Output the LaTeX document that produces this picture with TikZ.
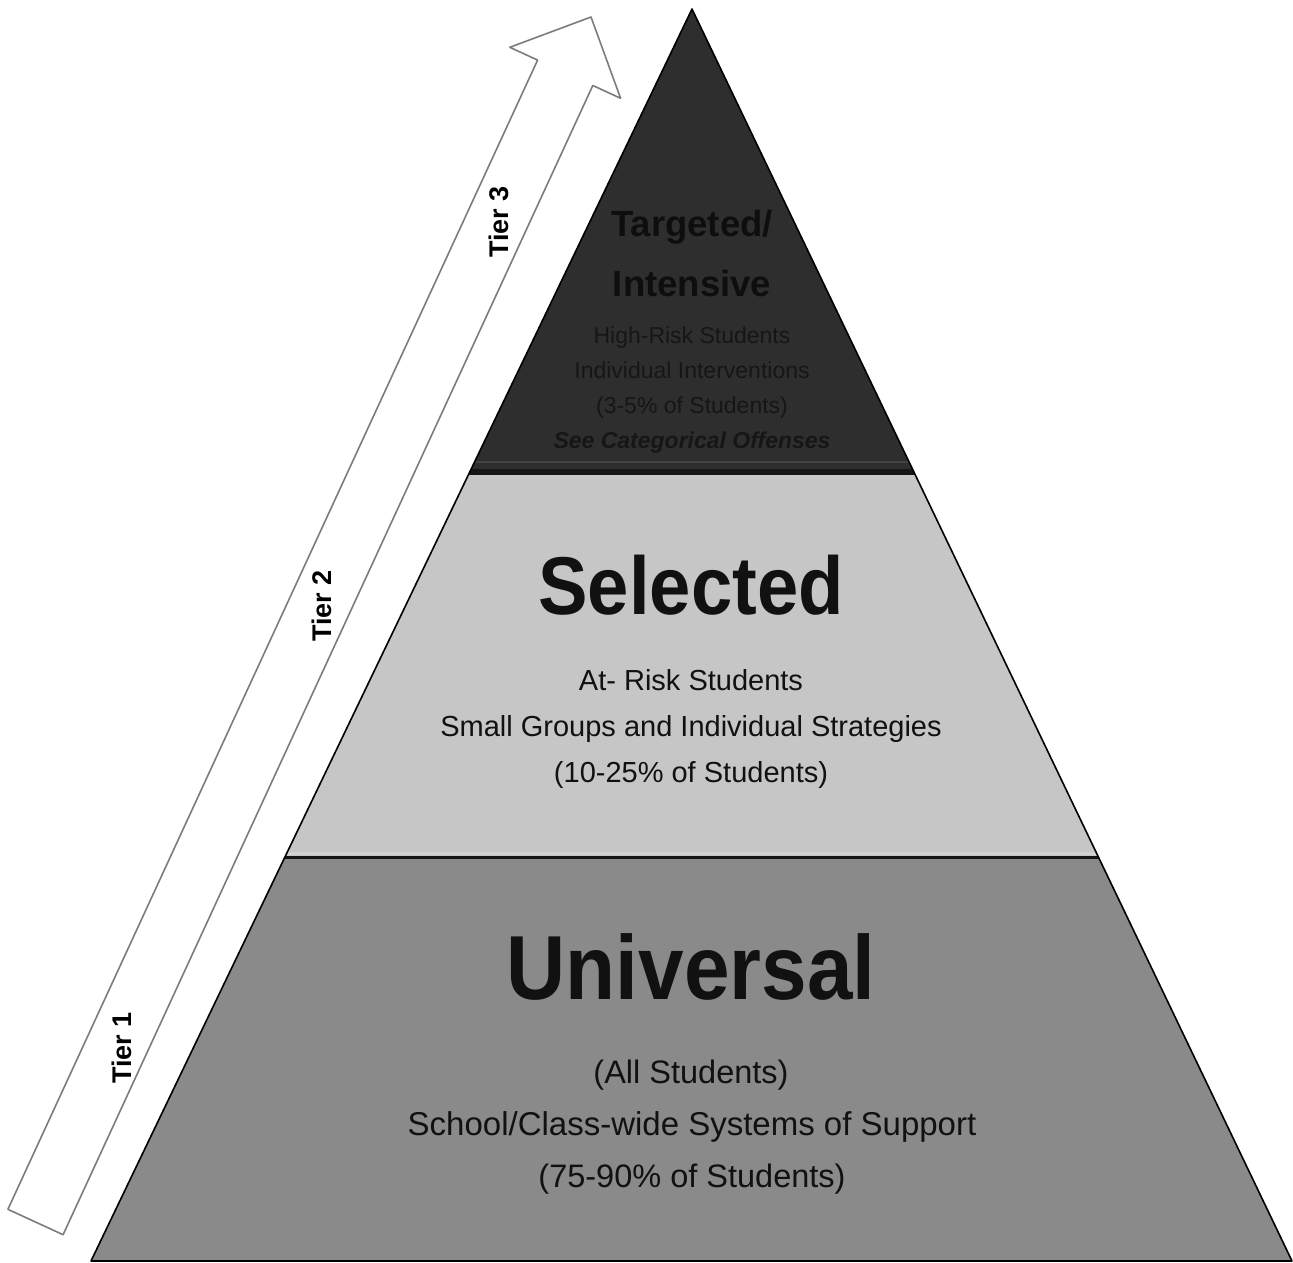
\documentclass[tikz,border=0pt]{standalone}
\usepackage{fontspec}
\setmainfont{Liberation Sans}
\definecolor{topband}{HTML}{2E2E2E}
\definecolor{topline}{HTML}{444444}
\definecolor{midband}{HTML}{C6C6C6}
\definecolor{midline}{HTML}{D2D2D2}
\definecolor{lowband}{HTML}{8A8A8A}
\definecolor{sepline}{HTML}{151515}
\definecolor{arrowline}{HTML}{7C7C7C}
\definecolor{toptext}{HTML}{161616}
\definecolor{topheadtext}{HTML}{0E0E0E}
\definecolor{bodytext}{HTML}{111111}
\begin{document}
\begin{tikzpicture}[x=1pt,y=-1pt,line join=round,
  tierlabel/.style={font=\bfseries\fontsize{27}{27}\selectfont, text=black, rotate=90, inner sep=0pt, anchor=center},
  toptxt/.style={anchor=base, inner sep=0pt, text=toptext},
  tophead/.style={anchor=base, inner sep=0pt, text=topheadtext, font=\bfseries\fontsize{36.5}{36.5}\selectfont},
  bodytxt/.style={anchor=base, inner sep=0pt, text=bodytext}]
\useasboundingbox (0,0) rectangle (1293,1262);
% pyramid corners
\coordinate (apex) at (692,9);
\coordinate (bleft) at (91,1261);
\coordinate (bright) at (1292,1261);
\begin{scope}
  \clip (apex) -- (bleft) -- (bright) -- cycle;
  \fill[topband] (0,0) rectangle (1293,472);
  \fill[midband] (0,472) rectangle (1293,857);
  \fill[lowband] (0,857) rectangle (1293,1262);
  \draw[topline, line width=2] (0,462) -- (1293,462);
  \draw[sepline, line width=6] (0,471.5) -- (1293,471.5);
  \draw[midline, line width=3] (0,853.5) -- (1293,853.5);
  \draw[sepline, line width=3] (0,857.5) -- (1293,857.5);
\end{scope}
\draw[black, line width=1.6] (apex) -- (bleft) -- (bright) -- cycle;
% hollow arrow
\coordinate (aBL) at (7.9,1209.3);
\coordinate (aBR) at (63.1,1234.7);
\coordinate (aSL) at (537.6,60.1);
\coordinate (aSR) at (592.8,85.5);
\coordinate (aHL) at (509.8,47.3);
\coordinate (aHR) at (620.6,98.3);
\coordinate (aTip) at (591,17);
\draw[arrowline, fill=white, line width=1.6] (aBL) -- (aSL) -- (aHL) -- (aTip) -- (aHR) -- (aSR) -- (aBR) -- cycle;
% tier labels
\node[tierlabel] (tier1) at (122,1048) {Tier 1};
\node[tierlabel] (tier2) at (322,606) {Tier 2};
\node[tierlabel] (tier3) at (499,222) {Tier 3};
% top band text
\node[tophead] (t1) at (692,236) {Targeted/};
\node[tophead] (t2) at (692,296) {Intensive};
\node[toptxt, font=\fontsize{23}{23}\selectfont] (t3) at (692,343) {High-Risk Students};
\node[toptxt, font=\fontsize{23}{23}\selectfont] (t4) at (692,378) {Individual Interventions};
\node[toptxt, font=\fontsize{23}{23}\selectfont] (t5) at (692,413) {(3-5\% of Students)};
\node[toptxt, font=\bfseries\itshape\fontsize{23}{23}\selectfont] (t6) at (692,448) {See Categorical Offenses};
% middle band text
\node[bodytxt, font=\bfseries\fontsize{82}{82}\selectfont] (s1) at (691,614) {\scalebox{0.905}[1]{Selected}};
\node[bodytxt, font=\fontsize{29}{29}\selectfont] (s2) at (691,690) {At- Risk Students};
\node[bodytxt, font=\fontsize{29}{29}\selectfont] (s3) at (691,736) {Small Groups and Individual Strategies};
\node[bodytxt, font=\fontsize{29}{29}\selectfont] (s4) at (691,782) {(10-25\% of Students)};
% bottom band text
\node[bodytxt, font=\bfseries\fontsize{91}{91}\selectfont] (u1) at (691,999) {\scalebox{0.9}[1]{Universal}};
\node[bodytxt, font=\fontsize{32.5}{32.5}\selectfont] (u2) at (691,1083) {(All Students)};
\node[bodytxt, font=\fontsize{33}{33}\selectfont] (u3) at (692,1135) {School/Class-wide Systems of Support};
\node[bodytxt, font=\fontsize{32.5}{32.5}\selectfont] (u4) at (692,1187) {(75-90\% of Students)};
\end{tikzpicture}
\end{document}
